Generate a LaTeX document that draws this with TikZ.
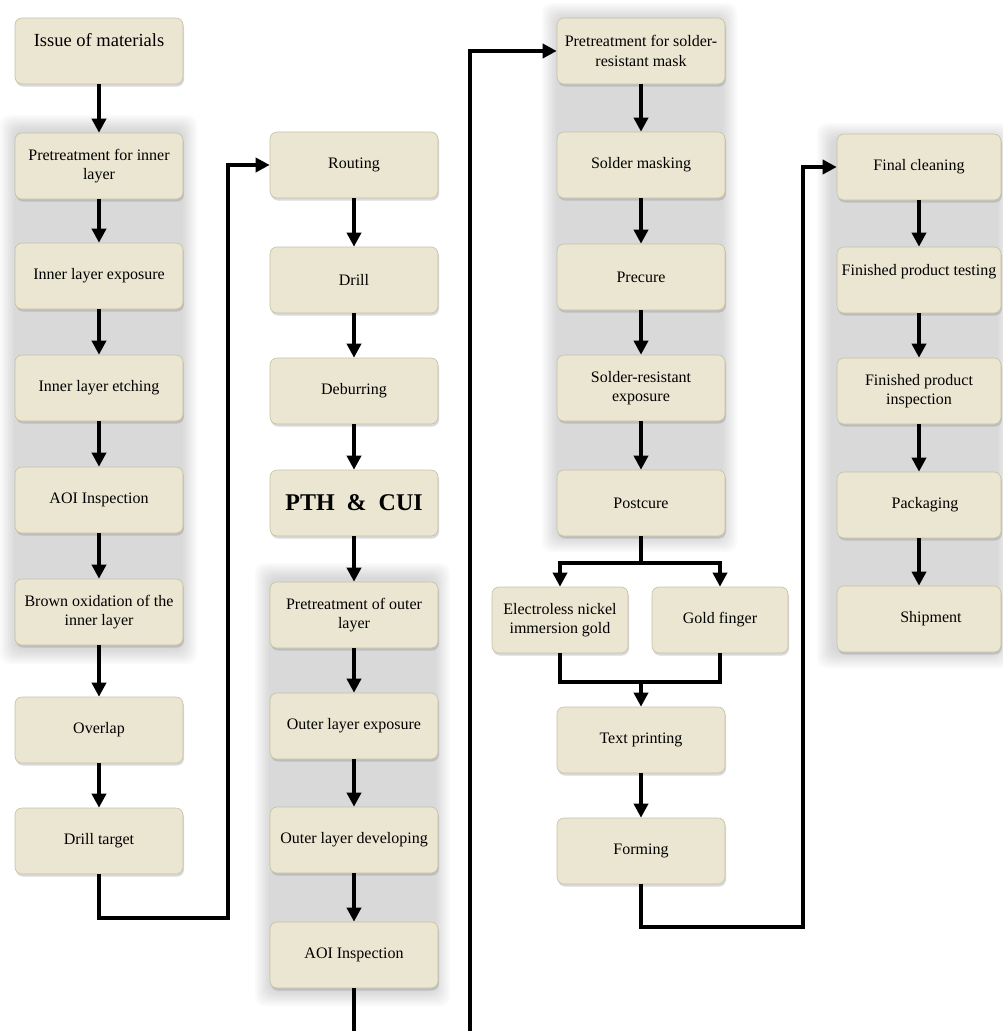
\documentclass[tikz,border=0pt]{standalone}
\usepackage{fontspec}
\setmainfont{Liberation Serif}
\usetikzlibrary{arrows.meta,shadows}

\definecolor{boxfill}{RGB}{235,230,209}
\definecolor{boxedge}{RGB}{198,192,166}

\begin{document}
\begin{tikzpicture}[x=1pt,y=-1pt,
    box/.style={rectangle,rounded corners=7pt,fill=boxfill,draw=boxedge,line width=0.6pt,
      minimum width=168pt,minimum height=66pt,align=center,inner sep=2pt,
      font=\fontsize{16}{19.5}\selectfont,
      drop shadow={shadow xshift=1pt,shadow yshift=-2.5pt,opacity=0.3}},
    smallbox/.style={box,minimum width=136pt},
    wire/.style={line width=4.5pt},
    flow/.style={wire,-{Triangle[length=14pt,width=14pt]}}]
  \useasboundingbox (0,0) rectangle (1003,1031);

  % grey groups
  \foreach \xa/\ya/\xb/\yb in {0/115/197/664,255/563/450/1006,542/3/737/552,817/123/1012/668} {
    \foreach \d in {0,2,...,14}
      \fill[black,opacity=0.021,rounded corners=10pt] (\xa+\d,\ya+\d) rectangle (\xb-\d,\yb-\d);
  }

  % first column
  \node[box,font=\fontsize{18.5}{22}\selectfont] (issue) at (99,51) {Issue of materials\\~};
  \node[box] (pre1) at (99,166) {Pretreatment for inner\\layer};
  \node[box] (exp1) at (99,276) {Inner layer exposure};
  \node[box] (etch1) at (99,388) {Inner layer etching};
  \node[box] (aoi1) at (99,500) {AOI Inspection};
  \node[box] (brown) at (99,612) {Brown oxidation of the\\inner layer};
  \node[box] (overlap) at (99,730) {Overlap};
  \node[box] (target) at (99,841) {Drill target};

  % second column
  \node[box] (routing) at (354,165) {Routing};
  \node[box] (drill) at (354,280) {Drill};
  \node[box] (deburr) at (354,391) {Deburring};
  \node[box,font=\fontsize{24}{28}\selectfont\bfseries] (pth) at (354,503) {PTH\ \ \&\ \ CUI};
  \node[box] (preout) at (354,615) {Pretreatment of outer\\layer};
  \node[box] (expout) at (354,726) {Outer layer exposure};
  \node[box] (devout) at (354,840) {Outer layer developing};
  \node[box] (aoi2) at (354,955) {AOI Inspection};

  % third column
  \node[box] (pre3) at (641,51) {Pretreatment for solder-\\resistant mask};
  \node[box] (mask) at (641,165) {Solder masking};
  \node[box] (precure) at (641,277) {Precure};
  \node[box] (srexp) at (641,388) {Solder-resistant\\exposure};
  \node[box] (postcure) at (641,503) {Postcure};
  \node[smallbox] (enig) at (560,620) {Electroless nickel\\immersion gold};
  \node[smallbox] (gold) at (720,620) {Gold finger};
  \node[box] (textprint) at (641,740) {Text printing};
  \node[box] (forming) at (641,851) {Forming};

  % fourth column
  \node[box,minimum width=164pt] (clean) at (919,167) {Final cleaning};
  \node[box,minimum width=164pt] (testing) at (919,280) {Finished product testing\\~};
  \node[box,minimum width=164pt] (inspect) at (919,391) {Finished product\\inspection};
  \node[box,minimum width=164pt] (pack) at (919,505) {\hspace*{12pt}Packaging};
  \node[box,minimum width=164pt] (ship) at (919,619) {\hspace*{24pt}Shipment};

  \foreach \a/\b in {issue/pre1,pre1/exp1,exp1/etch1,etch1/aoi1,aoi1/brown,brown/overlap,overlap/target,
      routing/drill,drill/deburr,deburr/pth,pth/preout,preout/expout,expout/devout,devout/aoi2,
      pre3/mask,mask/precure,precure/srexp,srexp/postcure,textprint/forming,
      clean/testing,testing/inspect,inspect/pack,pack/ship}
    \draw[flow] (\a) -- (\b);

  % links between columns
  \coordinate (turnA) at (228,918);
  \draw[flow] (target) |- (turnA) |- (routing);
  \coordinate (outA) at (354,1031);
  \draw[wire] (aoi2) -- (outA);
  \coordinate (inB) at (470,1031);
  \draw[flow] (inB) |- (pre3);
  \coordinate (split) at (641,563);
  \draw[wire] (postcure) -- (split);
  \draw[flow] (split) -| (enig);
  \draw[flow] (split) -| (gold);
  \coordinate (join) at (641,682);
  \draw[wire] (enig) |- (join);
  \draw[wire] (gold) |- (join);
  \draw[flow] (join) -- (textprint);
  \coordinate (turnC) at (803,927);
  \draw[flow] (forming) |- (turnC) |- (clean);
\end{tikzpicture}
\end{document}
